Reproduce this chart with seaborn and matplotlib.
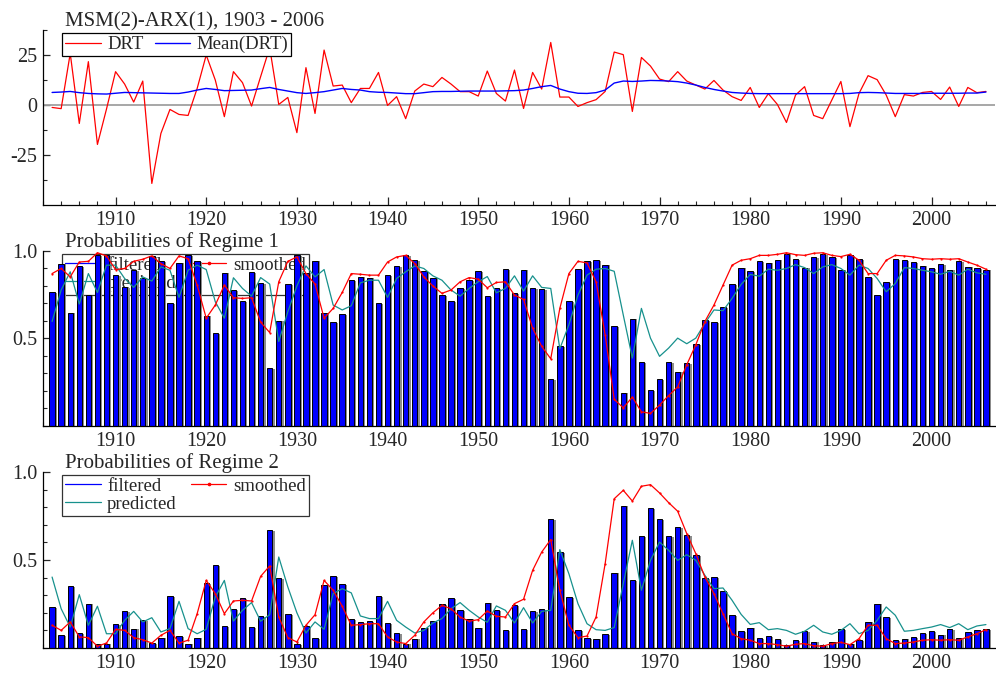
# %%
import numpy as np
import matplotlib
matplotlib.use("Agg")
import matplotlib.pyplot as plt
import matplotlib.patheffects as pe
from matplotlib.lines import Line2D
from matplotlib.ticker import MultipleLocator, FixedLocator
import seaborn as sns

# %%
# data
years = np.arange(1903, 2007)

drt = [
    -1.2, -1.8, 25.8, -9.2, 21.7, -19.7, -2.0, 16.7, 10.5, 1.5,
    12.0, -39.2, -14.2, -2.2, -4.7, -5.2, 8.3, 25.0, 12.5, -5.8,
    16.7, 11.2, -0.5, 14.2, 28.7, 0.3, 3.8, -13.8, 18.7, -4.2,
    27.5, 9.5, 10.0, 1.2, 8.3, 8.3, 16.3, -0.2, 4.2, -6.8,
    7.0, 10.5, 9.2, 13.8, 10.5, 6.7, 6.7, 4.5, 17.0, 5.8,
    2.0, 17.5, -1.7, 16.3, 8.0, 31.3, 4.0, 4.0, -0.7, 1.2,
    2.7, 6.8, 26.5, 25.2, -3.2, 23.8, 19.5, 13.0, 11.7, 16.7,
    12.0, 10.0, 8.0, 12.3, 7.5, 4.2, 2.3, 8.8, -1.2, 5.7,
    0.3, -8.7, 5.0, 9.2, -5.2, -6.8, 2.5, 11.8, -10.8, 5.8,
    14.7, 12.7, 5.0, -5.8, 5.2, 4.5, 6.3, 6.8, 2.8, 9.0,
    -0.7, 8.8, 6.2, 6.8,
]

drt_mean = [
    6.3, 6.5, 6.8, 6.2, 5.8, 5.6, 5.5, 5.9, 6.3, 6.2,
    6.1, 6.0, 5.9, 5.8, 5.8, 6.5, 7.5, 8.3, 7.8, 7.2,
    7.3, 7.4, 7.5, 8.2, 8.8, 7.8, 7.0, 6.2, 5.8, 6.2,
    6.7, 7.5, 8.3, 7.8, 7.5, 6.7, 6.4, 6.3, 6.0, 5.7,
    5.7, 6.2, 6.7, 6.8, 6.8, 6.9, 7.0, 7.0, 7.0, 7.0,
    7.1, 7.2, 7.5, 8.3, 9.2, 9.8, 8.0, 6.7, 5.9, 5.8,
    6.2, 7.5, 11.0, 12.0, 11.8, 12.0, 12.3, 12.2, 12.0, 11.7,
    11.0, 10.0, 8.8, 7.8, 7.0, 6.3, 6.0, 5.8, 5.7, 5.7,
    5.7, 5.7, 5.7, 5.7, 5.7, 5.7, 5.7, 5.7, 5.8, 6.2,
    6.3, 6.2, 6.0, 5.8, 5.8, 5.8, 5.8, 5.9, 5.9, 5.9,
    5.9, 6.0, 6.0, 6.5,
]

# regime 1
filt1 = [
    0.767, 0.928, 0.648, 0.913, 0.748, 0.975, 0.975, 0.862, 0.792, 0.890,
    0.843, 0.972, 0.941, 0.703, 0.934, 0.975, 0.941, 0.631, 0.530, 0.877,
    0.778, 0.716, 0.881, 0.818, 0.331, 0.602, 0.809, 0.979, 0.877, 0.945,
    0.644, 0.593, 0.638, 0.835, 0.854, 0.848, 0.703, 0.860, 0.913, 0.975,
    0.947, 0.884, 0.848, 0.750, 0.716, 0.786, 0.833, 0.884, 0.742, 0.786,
    0.896, 0.758, 0.894, 0.788, 0.780, 0.269, 0.455, 0.712, 0.896, 0.943,
    0.947, 0.922, 0.572, 0.191, 0.614, 0.366, 0.203, 0.269, 0.366, 0.311,
    0.360, 0.470, 0.604, 0.595, 0.678, 0.812, 0.905, 0.884, 0.943, 0.934,
    0.951, 0.985, 0.956, 0.905, 0.964, 0.983, 0.964, 0.894, 0.975, 0.956,
    0.850, 0.748, 0.824, 0.956, 0.947, 0.936, 0.917, 0.902, 0.924, 0.894,
    0.941, 0.911, 0.900, 0.894,
]
smooth1 = [
    0.871, 0.900, 0.852, 0.937, 0.941, 0.990, 0.972, 0.894, 0.900, 0.941,
    0.953, 0.972, 0.928, 0.900, 0.972, 0.956, 0.805, 0.616, 0.691, 0.805,
    0.733, 0.729, 0.733, 0.593, 0.534, 0.824, 0.941, 0.966, 0.871, 0.811,
    0.616, 0.672, 0.763, 0.871, 0.867, 0.862, 0.862, 0.937, 0.966, 0.975,
    0.928, 0.852, 0.800, 0.758, 0.777, 0.824, 0.848, 0.839, 0.790, 0.820,
    0.824, 0.748, 0.723, 0.559, 0.455, 0.384, 0.672, 0.871, 0.941, 0.932,
    0.824, 0.521, 0.152, 0.104, 0.165, 0.081, 0.072, 0.119, 0.174, 0.223,
    0.350, 0.464, 0.597, 0.691, 0.805, 0.919, 0.947, 0.956, 0.975, 0.975,
    0.981, 0.990, 0.979, 0.975, 0.987, 0.990, 0.975, 0.968, 0.981, 0.947,
    0.871, 0.871, 0.947, 0.975, 0.972, 0.966, 0.956, 0.953, 0.956, 0.953,
    0.956, 0.937, 0.919, 0.896,
]
pred1 = [
    0.597, 0.777, 0.881, 0.697, 0.871, 0.763, 0.919, 0.919, 0.843, 0.792,
    0.852, 0.828, 0.909, 0.890, 0.735, 0.890, 0.919, 0.894, 0.710, 0.616,
    0.847, 0.786, 0.742, 0.848, 0.811, 0.483, 0.653, 0.800, 0.915, 0.852,
    0.894, 0.691, 0.663, 0.687, 0.818, 0.833, 0.833, 0.735, 0.843, 0.881,
    0.915, 0.900, 0.858, 0.833, 0.777, 0.742, 0.786, 0.824, 0.854, 0.761,
    0.786, 0.858, 0.771, 0.858, 0.792, 0.786, 0.441, 0.578, 0.748, 0.862,
    0.896, 0.900, 0.884, 0.634, 0.388, 0.672, 0.502, 0.398, 0.445, 0.502,
    0.470, 0.502, 0.587, 0.663, 0.659, 0.729, 0.809, 0.866, 0.856, 0.896,
    0.890, 0.900, 0.922, 0.905, 0.871, 0.909, 0.922, 0.900, 0.862, 0.919,
    0.900, 0.843, 0.767, 0.814, 0.905, 0.900, 0.890, 0.881, 0.867, 0.884,
    0.862, 0.896, 0.875, 0.867,
]

# regime 2
filt2 = [
    0.233, 0.072, 0.352, 0.087, 0.252, 0.025, 0.025, 0.138, 0.208, 0.110,
    0.157, 0.028, 0.059, 0.297, 0.066, 0.025, 0.059, 0.369, 0.470, 0.123,
    0.222, 0.284, 0.119, 0.182, 0.669, 0.398, 0.191, 0.021, 0.123, 0.055,
    0.356, 0.407, 0.362, 0.165, 0.146, 0.152, 0.297, 0.140, 0.087, 0.025,
    0.053, 0.116, 0.152, 0.250, 0.284, 0.214, 0.167, 0.116, 0.258, 0.214,
    0.104, 0.242, 0.106, 0.212, 0.220, 0.731, 0.545, 0.288, 0.104, 0.057,
    0.053, 0.078, 0.428, 0.809, 0.386, 0.634, 0.797, 0.731, 0.634, 0.689,
    0.640, 0.530, 0.396, 0.405, 0.322, 0.188, 0.095, 0.116, 0.057, 0.066,
    0.049, 0.015, 0.044, 0.095, 0.036, 0.017, 0.036, 0.106, 0.025, 0.044,
    0.150, 0.252, 0.176, 0.044, 0.053, 0.064, 0.083, 0.098, 0.076, 0.106,
    0.059, 0.089, 0.100, 0.106,
]
smooth2 = [
    0.129, 0.100, 0.148, 0.063, 0.059, 0.010, 0.028, 0.106, 0.100, 0.059,
    0.047, 0.028, 0.072, 0.100, 0.028, 0.044, 0.195, 0.384, 0.309, 0.195,
    0.267, 0.271, 0.267, 0.407, 0.466, 0.176, 0.059, 0.034, 0.129, 0.189,
    0.384, 0.328, 0.237, 0.129, 0.133, 0.138, 0.138, 0.063, 0.034, 0.025,
    0.072, 0.148, 0.200, 0.242, 0.223, 0.176, 0.152, 0.161, 0.210, 0.180,
    0.176, 0.252, 0.277, 0.441, 0.545, 0.616, 0.328, 0.129, 0.059, 0.068,
    0.176, 0.479, 0.848, 0.896, 0.835, 0.919, 0.928, 0.881, 0.826, 0.777,
    0.650, 0.536, 0.403, 0.309, 0.195, 0.081, 0.053, 0.044, 0.025, 0.025,
    0.019, 0.010, 0.021, 0.025, 0.013, 0.010, 0.025, 0.032, 0.019, 0.053,
    0.129, 0.129, 0.053, 0.025, 0.028, 0.034, 0.044, 0.047, 0.044, 0.047,
    0.044, 0.063, 0.081, 0.104,
]
pred2 = [
    0.403, 0.223, 0.119, 0.303, 0.129, 0.237, 0.081, 0.081, 0.157, 0.208,
    0.148, 0.172, 0.091, 0.110, 0.265, 0.110, 0.081, 0.106, 0.290, 0.384,
    0.153, 0.214, 0.258, 0.152, 0.189, 0.517, 0.347, 0.200, 0.085, 0.148,
    0.106, 0.309, 0.337, 0.313, 0.182, 0.167, 0.167, 0.265, 0.157, 0.119,
    0.085, 0.100, 0.142, 0.167, 0.223, 0.258, 0.214, 0.176, 0.146, 0.239,
    0.214, 0.142, 0.229, 0.142, 0.208, 0.214, 0.559, 0.422, 0.252, 0.138,
    0.104, 0.100, 0.116, 0.366, 0.612, 0.328, 0.498, 0.602, 0.555, 0.498,
    0.530, 0.498, 0.413, 0.337, 0.341, 0.271, 0.191, 0.134, 0.144, 0.104,
    0.110, 0.100, 0.078, 0.095, 0.129, 0.091, 0.078, 0.100, 0.138, 0.081,
    0.100, 0.157, 0.233, 0.186, 0.095, 0.100, 0.110, 0.119, 0.133, 0.116,
    0.138, 0.104, 0.125, 0.133,
]

title_top = "MSM(2)-ARX(1), 1903 - 2006"
title_r1 = "Probabilities of Regime 1"
title_r2 = "Probabilities of Regime 2"

# %%
sns.set_style("ticks")
plt.rcParams["font.family"] = ["Liberation Serif", "DejaVu Serif"]
plt.rcParams["axes.unicode_minus"] = False

RED = "#FF0000"
BLUE = "#0000FF"
TEAL = "#17918D"

fig = plt.figure(figsize=(9.96, 6.74), dpi=100)
fig.patch.set_facecolor("white")
ax_top = fig.add_axes([0.0432, 0.6958, 0.9558, 0.2596])
ax_r1 = fig.add_axes([0.0432, 0.3680, 0.9558, 0.2596])
ax_r2 = fig.add_axes([0.0432, 0.0386, 0.9558, 0.2611])
axes = [ax_top, ax_r1, ax_r2]

# top panel
ax_top.axhline(0, color="#A0A0A0", linewidth=1.3, zorder=1)
sns.lineplot(x=years, y=drt, ax=ax_top, color=RED, linewidth=0.9, zorder=3)
sns.lineplot(x=years, y=drt_mean, ax=ax_top, color=BLUE, linewidth=1.0, zorder=3)
ax_top.set_ylim(-50, 37.5)
ax_top.yaxis.set_major_locator(FixedLocator([-25, 0, 25]))
ax_top.yaxis.set_minor_locator(FixedLocator([-37.5, -12.5, 12.5, 37.5]))
leg = ax_top.legend(
    handles=[
        Line2D([], [], color=RED, linewidth=0.9, label="DRT"),
        Line2D([], [], color=BLUE, linewidth=1.0, label="Mean(DRT)"),
    ],
    loc="upper left",
    bbox_to_anchor=(0.020, 0.983),
    borderaxespad=0,
    ncol=2,
    fontsize=13.5,
    handlelength=1.9,
    handletextpad=0.35,
    columnspacing=0.6,
    borderpad=0.15,
    fancybox=False,
    framealpha=1,
    edgecolor="black",
)
leg.get_frame().set_linewidth(0.9)


def regime_panel(ax, filt, smooth, pred):
    sns.barplot(
        x=years,
        y=filt,
        ax=ax,
        native_scale=True,
        width=0.6,
        color=BLUE,
        saturation=1,
        edgecolor="black",
        linewidth=0.7,
        errorbar=None,
        zorder=2,
    )
    # grey drop shadow on the right of each bar
    for p in ax.patches:
        p.set_path_effects(
            [
                pe.SimplePatchShadow(offset=(1.6, -0.6), shadow_rgbFace="#8C8C8C", alpha=1),
                pe.Normal(),
            ]
        )
    sns.lineplot(x=years, y=pred, ax=ax, color=TEAL, linewidth=0.9, zorder=3)
    sns.lineplot(
        x=years,
        y=smooth,
        ax=ax,
        color=RED,
        linewidth=0.9,
        marker="o",
        markersize=1.6,
        markeredgewidth=0,
        zorder=4,
    )
    ax.set_ylim(0, 1.0)
    ax.yaxis.set_major_locator(FixedLocator([0.5, 1.0]))
    ax.yaxis.set_minor_locator(MultipleLocator(0.1))
    lg = ax.legend(
        handles=[
            Line2D([], [], color=BLUE, linewidth=0.9, label="filtered"),
            Line2D([], [], color=TEAL, linewidth=0.9, label="predicted"),
            Line2D([], [], color=RED, linewidth=0.9, marker="o", markersize=1.6,
                   markevery=[1, 3], label="smoothed"),
        ],
        loc="upper left",
        bbox_to_anchor=(0.020, 0.983),
        borderaxespad=0,
        ncol=2,
        fontsize=13.5,
        handlelength=1.9,
        handletextpad=0.35,
        columnspacing=0.75,
        labelspacing=0.05,
        borderpad=0.15,
        fancybox=False,
        frameon=True,
        edgecolor="black",
    )
    lg.get_frame().set_facecolor("none")
    lg.get_frame().set_linewidth(0.9)
    # legend sits underneath the bars, as in the original
    lg.set_zorder(1)


regime_panel(ax_r1, filt1, smooth1, pred1)
regime_panel(ax_r2, filt2, smooth2, pred2)

titles = [title_top, title_r1, title_r2]
for ax, title in zip(axes, titles):
    ax.set_xlim(1902, 2007)
    ax.xaxis.set_major_locator(MultipleLocator(10))
    ax.xaxis.set_minor_locator(MultipleLocator(2))
    ax.set_xlabel("")
    ax.set_ylabel("")
    ax.set_facecolor("none")
    for s in ["top", "right"]:
        ax.spines[s].set_visible(False)
    for s in ["left", "bottom"]:
        ax.spines[s].set_linewidth(0.9)
        ax.spines[s].set_color("black")
    ax.tick_params(axis="x", which="major", direction="in", length=6, width=0.9,
                   labelsize=14.5, pad=4)
    ax.tick_params(axis="x", which="minor", direction="in", length=3, width=0.8)
    ax.tick_params(axis="y", which="major", direction="in", length=5, width=0.9,
                   labelsize=14.5, pad=4)
    ax.tick_params(axis="y", which="minor", direction="in", length=3, width=0.8)
    ax.text(0.023, 1.023, title, transform=ax.transAxes, fontsize=15,
            ha="left", va="baseline")

fig.savefig("out.png", dpi=100, facecolor="white")
